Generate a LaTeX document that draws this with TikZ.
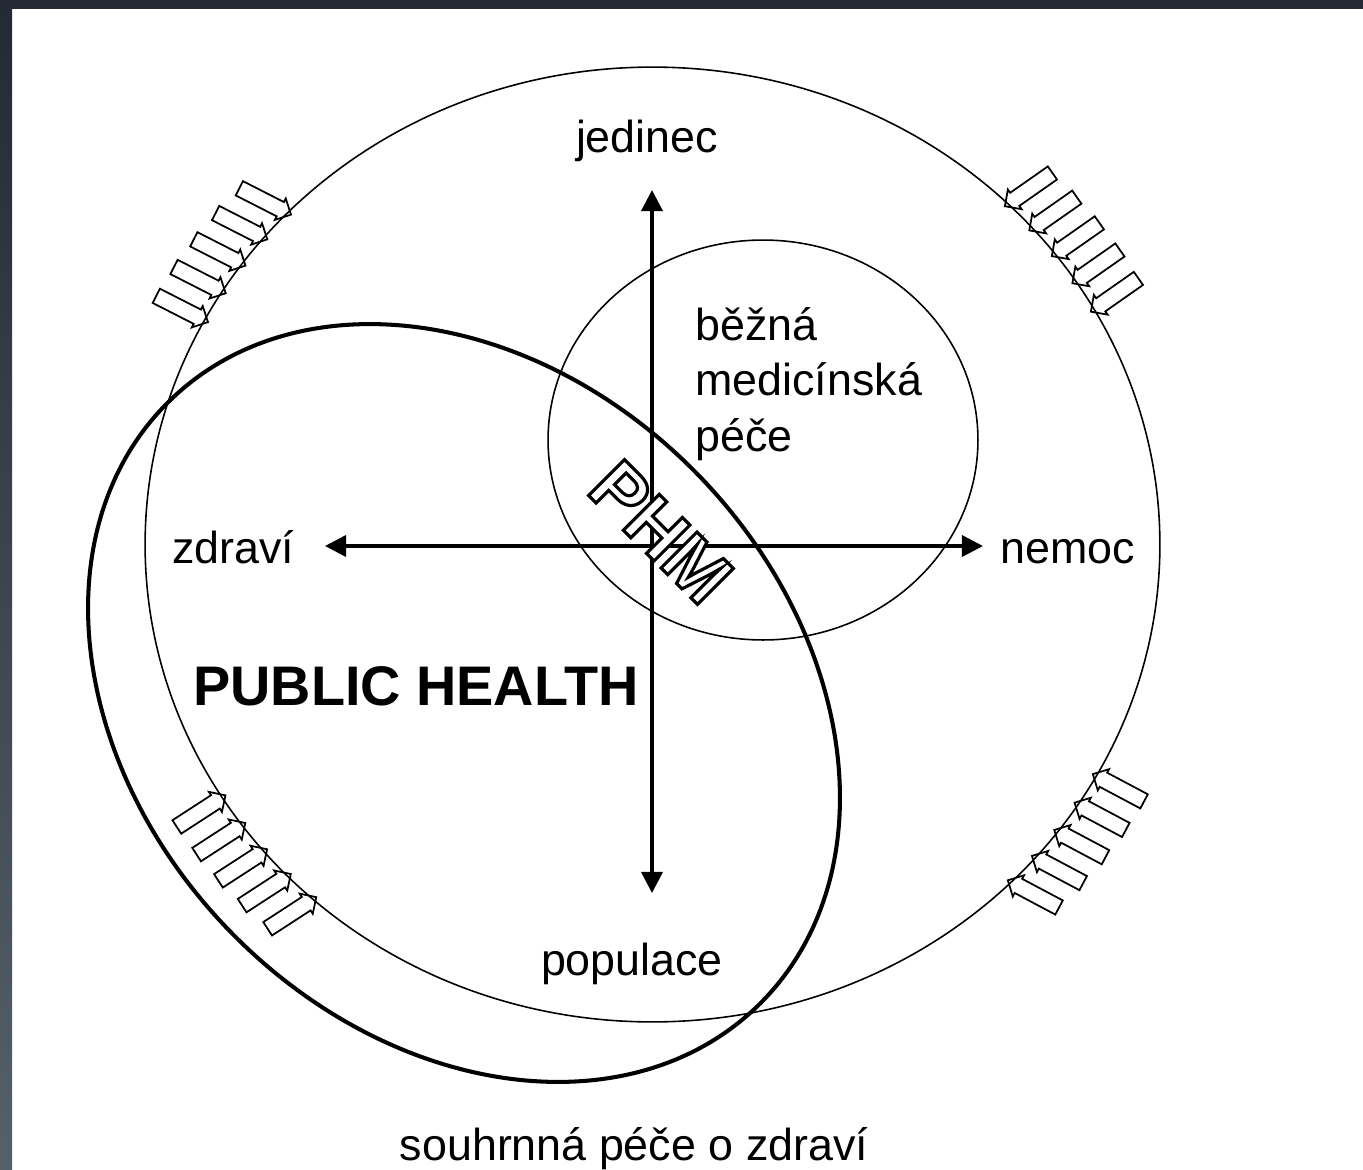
\documentclass[tikz,border=0pt]{standalone}
\usepackage{fontspec}
\setmainfont{Liberation Sans}
\usetikzlibrary{arrows.meta,calc}
\definecolor{frameTop}{HTML}{232A33}
\definecolor{frameBot}{HTML}{56606A}
\newcommand\blockarrow[2]{%
  \pgfmathsetmacro\bax{652.5+507.5*cos(#1)}%
  \pgfmathsetmacro\bay{544.5-477.5*sin(#1)}%
  \pgfmathsetmacro\bdx{cos(#2)}%
  \pgfmathsetmacro\bdy{sin(#2)}%
  \draw[blockarr] ({\bax+4*(\bdx)},{\bay+4*(\bdy)})
    -- ++({-12*(\bdx)-12*(\bdy)},{-12*(\bdy)+12*(\bdx)})
    -- ++({4*(\bdy)},{-4*(\bdx)})
    -- ++({-46*(\bdx)},{-46*(\bdy)})
    -- ++({16*(\bdy)},{-16*(\bdx)})
    -- ++({46*(\bdx)},{46*(\bdy)})
    -- ++({4*(\bdy)},{-4*(\bdx)})
    -- cycle;}
\newcommand\outlinetext[1]{\special{pdf:literal direct 2 Tr 1.8 w 0 G}#1\special{pdf:literal direct 0 Tr}}
\begin{document}
\begin{tikzpicture}[x=0.02cm,y=-0.02cm,
  lbl/.style={font=\fontsize{25.5}{31.5}\selectfont, inner sep=0pt},
  thinline/.style={line width=0.9pt},
  bigring/.style={line width=2.3pt},
  axisline/.style={line width=2pt, {Triangle[length=12pt,width=12pt]}-{Triangle[length=12pt,width=12pt]}},
  blockarr/.style={line width=1pt, line join=miter},
  phmfont/.style={font=\bfseries\fontsize{42}{46}\selectfont, inner sep=0pt, rotate=-45}]
\useasboundingbox (0,0) rectangle (1363,1170);
\fill[white] (0,0) rectangle (1363,1170);
\shade[top color=frameTop, bottom color=frameBot] (0,0) rectangle (12,1170);
\fill[frameTop] (0,0) rectangle (1363,9);

% circles
\draw[thinline] (652.5,544.5) ellipse [x radius=10.15cm, y radius=9.55cm];
\draw[thinline] (763,440) ellipse [x radius=4.3cm, y radius=4cm];
\draw[bigring] (464,703) ellipse [x radius=8.44cm, y radius=6.54cm, rotate=-45.9];

% axes
\coordinate (vtop) at (652,190);
\coordinate (vbot) at (652,893);
\coordinate (hleft) at (325,546);
\coordinate (hright) at (983,546);
\draw[axisline] (vbot) -- (vtop);
\draw[axisline] (hleft) -- (hright);

% labels
\node[lbl, anchor=base] (jedinec) at (647,152) {jedinec};
\node[lbl, anchor=base west] (zdravi) at (172,563) {zdraví};
\node[lbl, anchor=base west] (nemoc) at (1000,563) {nemoc};
\node[lbl, anchor=base] (populace) at (632,975) {populace};
\node[lbl, anchor=base] (souhrnna) at (634,1160) {souhrnná péče o zdraví};
\node[lbl, anchor=north west, align=left] (bezna) at (695,307) {běžná\\medicínská\\péče};
\node[font=\bfseries\fontsize{31.75}{38}\selectfont, inner sep=0pt, anchor=base west] (ph) at (193,705) {PUBLIC HEALTH};

% PHM outlined
\node[phmfont, text=white] (phm) at (661,532) {\outlinetext{PHM}};

% block arrows
\foreach \t in {136,140,144,148,152} {\blockarrow{\t}{27}}
\foreach \t in {29.5,33.5,37.5,41.5,45.5} {\blockarrow{\t}{145}}
\foreach \t in {212,216,220,224,228} {\blockarrow{\t}{-33}}
\foreach \t in {315,319,323,327,331} {\blockarrow{\t}{208}}
\end{tikzpicture}
\end{document}
